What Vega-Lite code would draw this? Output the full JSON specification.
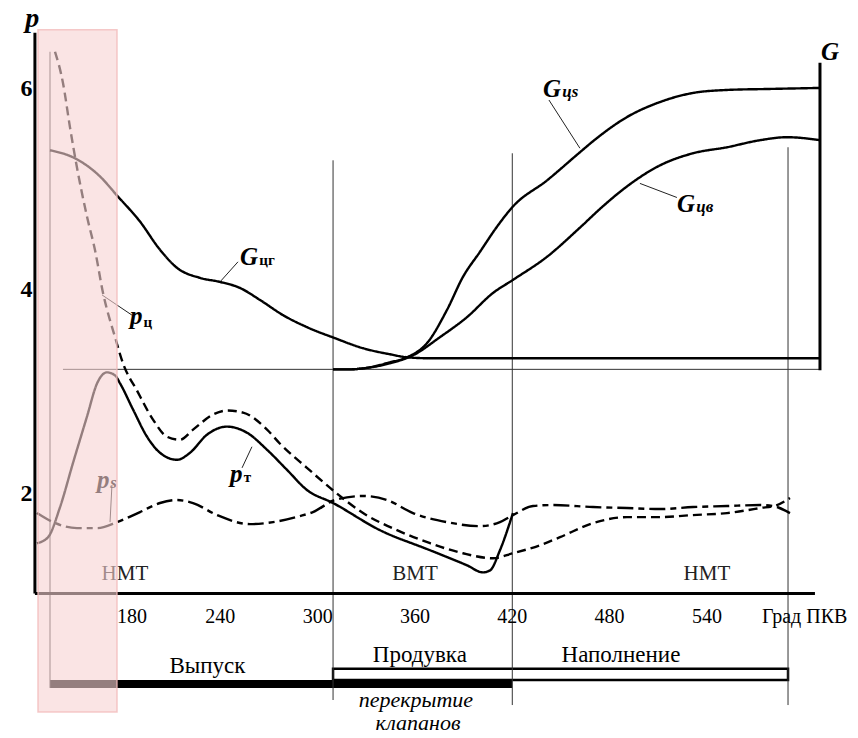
{
  "$schema": "https://vega.github.io/schema/vega-lite/v6.json",
  "width": 858,
  "height": 738,
  "autosize": "none",
  "padding": 0,
  "background": "white",
  "config": {"view": {"stroke": null}},
  "datasets": {
    "curves": [
      {"s":"Gcg","x":135.0,"y":5.49},{"s":"Gcg","x":150.4,"y":5.41},{"s":"Gcg","x":165.8,"y":5.23},{"s":"Gcg","x":176.3,"y":5.04},{"s":"Gcg","x":190.5,"y":4.78},{"s":"Gcg","x":202.8,"y":4.50},{"s":"Gcg","x":213.3,"y":4.32},{"s":"Gcg","x":227.5,"y":4.22},{"s":"Gcg","x":239.8,"y":4.18},{"s":"Gcg","x":252.1,"y":4.12},{"s":"Gcg","x":264.5,"y":4.00},{"s":"Gcg","x":278.6,"y":3.85},{"s":"Gcg","x":293.4,"y":3.73},{"s":"Gcg","x":310.7,"y":3.62},{"s":"Gcg","x":328.0,"y":3.52},{"s":"Gcg","x":344.6,"y":3.46},{"s":"Gcg","x":355.1,"y":3.43},{"s":"Gcg","x":370.0,"y":3.42},{"s":"Gcg","x":609.7,"y":3.42},
      {"s":"Gcs","x":309.5,"y":3.31},{"s":"Gcs","x":320.0,"y":3.31},{"s":"Gcs","x":328.0,"y":3.32},{"s":"Gcs","x":344.6,"y":3.38},{"s":"Gcs","x":355.1,"y":3.43},{"s":"Gcs","x":367.4,"y":3.57},{"s":"Gcs","x":379.7,"y":3.90},{"s":"Gcs","x":389.6,"y":4.23},{"s":"Gcs","x":400.1,"y":4.48},{"s":"Gcs","x":410.6,"y":4.73},{"s":"Gcs","x":420.4,"y":4.93},{"s":"Gcs","x":441.4,"y":5.19},{"s":"Gcs","x":461.7,"y":5.47},{"s":"Gcs","x":469.8,"y":5.58},{"s":"Gcs","x":490.7,"y":5.82},{"s":"Gcs","x":511.1,"y":5.97},{"s":"Gcs","x":531.4,"y":6.06},{"s":"Gcs","x":552.4,"y":6.09},{"s":"Gcs","x":578.9,"y":6.10},{"s":"Gcs","x":609.7,"y":6.11},
      {"s":"Gcv","x":309.5,"y":3.31},{"s":"Gcv","x":320.0,"y":3.31},{"s":"Gcv","x":328.0,"y":3.32},{"s":"Gcv","x":344.6,"y":3.37},{"s":"Gcv","x":358.8,"y":3.45},{"s":"Gcv","x":375.4,"y":3.63},{"s":"Gcv","x":392.1,"y":3.83},{"s":"Gcv","x":408.1,"y":4.07},{"s":"Gcv","x":420.4,"y":4.20},{"s":"Gcv","x":441.4,"y":4.43},{"s":"Gcv","x":461.7,"y":4.72},{"s":"Gcv","x":475.0,"y":4.92},{"s":"Gcv","x":490.7,"y":5.13},{"s":"Gcv","x":511.1,"y":5.34},{"s":"Gcv","x":531.4,"y":5.46},{"s":"Gcv","x":552.4,"y":5.52},{"s":"Gcv","x":572.7,"y":5.59},{"s":"Gcv","x":589.4,"y":5.62},{"s":"Gcv","x":609.7,"y":5.59},
      {"s":"pc","x":138.1,"y":6.47},{"s":"pc","x":143.0,"y":6.16},{"s":"pc","x":147.3,"y":5.72},{"s":"pc","x":151.6,"y":5.32},{"s":"pc","x":157.8,"y":4.83},{"s":"pc","x":162.7,"y":4.50},{"s":"pc","x":167.7,"y":4.07},{"s":"pc","x":175.1,"y":3.63},{"s":"pc","x":180.0,"y":3.37},{"s":"pc","x":188.6,"y":3.10},{"s":"pc","x":198.5,"y":2.81},{"s":"pc","x":207.1,"y":2.64},{"s":"pc","x":215.1,"y":2.61},{"s":"pc","x":223.2,"y":2.71},{"s":"pc","x":235.5,"y":2.86},{"s":"pc","x":244.1,"y":2.90},{"s":"pc","x":254.0,"y":2.88},{"s":"pc","x":268.8,"y":2.71},{"s":"pc","x":276.8,"y":2.57},{"s":"pc","x":293.4,"y":2.33},{"s":"pc","x":310.7,"y":2.09},{"s":"pc","x":328.0,"y":1.88},{"s":"pc","x":348.9,"y":1.71},{"s":"pc","x":369.3,"y":1.58},{"s":"pc","x":389.6,"y":1.48},{"s":"pc","x":408.1,"y":1.43},{"s":"pc","x":420.4,"y":1.48},{"s":"pc","x":437.1,"y":1.56},{"s":"pc","x":449.4,"y":1.64},{"s":"pc","x":469.8,"y":1.78},{"s":"pc","x":490.7,"y":1.84},{"s":"pc","x":511.1,"y":1.84},{"s":"pc","x":531.4,"y":1.86},{"s":"pc","x":552.4,"y":1.88},{"s":"pc","x":572.7,"y":1.93},{"s":"pc","x":583.2,"y":1.96},{"s":"pc","x":591.2,"y":2.03},
      {"s":"pt","x":127.0,"y":1.58},{"s":"pt","x":133.8,"y":1.64},{"s":"pt","x":141.2,"y":1.94},{"s":"pt","x":149.2,"y":2.38},{"s":"pt","x":157.8,"y":2.84},{"s":"pt","x":164.0,"y":3.17},{"s":"pt","x":170.1,"y":3.28},{"s":"pt","x":175.1,"y":3.25},{"s":"pt","x":178.2,"y":3.17},{"s":"pt","x":186.2,"y":2.91},{"s":"pt","x":194.8,"y":2.64},{"s":"pt","x":202.8,"y":2.48},{"s":"pt","x":213.3,"y":2.41},{"s":"pt","x":221.3,"y":2.48},{"s":"pt","x":231.8,"y":2.66},{"s":"pt","x":244.1,"y":2.74},{"s":"pt","x":256.4,"y":2.68},{"s":"pt","x":268.8,"y":2.51},{"s":"pt","x":281.1,"y":2.31},{"s":"pt","x":293.4,"y":2.11},{"s":"pt","x":309.5,"y":1.98},{"s":"pt","x":338.4,"y":1.71},{"s":"pt","x":369.3,"y":1.51},{"s":"pt","x":392.1,"y":1.36},{"s":"pt","x":401.9,"y":1.29},{"s":"pt","x":406.3,"y":1.31},{"s":"pt","x":412.4,"y":1.51},{"s":"pt","x":420.4,"y":1.88},
      {"s":"ps","x":127.0,"y":1.88},{"s":"ps","x":136.8,"y":1.79},{"s":"ps","x":151.6,"y":1.73},{"s":"ps","x":164.0,"y":1.73},{"s":"ps","x":176.3,"y":1.79},{"s":"ps","x":190.5,"y":1.89},{"s":"ps","x":202.8,"y":1.98},{"s":"ps","x":213.3,"y":2.01},{"s":"ps","x":223.2,"y":1.98},{"s":"ps","x":238.0,"y":1.86},{"s":"ps","x":258.3,"y":1.77},{"s":"ps","x":272.5,"y":1.79},{"s":"ps","x":289.1,"y":1.85},{"s":"ps","x":297.1,"y":1.89},{"s":"ps","x":310.7,"y":2.01},{"s":"ps","x":328.0,"y":2.05},{"s":"ps","x":342.8,"y":2.01},{"s":"ps","x":358.8,"y":1.88},{"s":"ps","x":379.7,"y":1.79},{"s":"ps","x":400.1,"y":1.75},{"s":"ps","x":412.4,"y":1.79},{"s":"ps","x":420.4,"y":1.86},{"s":"ps","x":432.8,"y":1.95},{"s":"ps","x":445.1,"y":1.96},{"s":"ps","x":469.8,"y":1.94},{"s":"ps","x":490.7,"y":1.93},{"s":"ps","x":511.1,"y":1.92},{"s":"ps","x":531.4,"y":1.94},{"s":"ps","x":552.4,"y":1.95},{"s":"ps","x":572.7,"y":1.96},{"s":"ps","x":580.7,"y":1.95},{"s":"ps","x":591.2,"y":1.88}
    ],
    "thin": [
      {"x":135.0,"x2":135.0,"y":6.47,"y2":0.14},
      {"x":309.5,"x2":309.5,"y":5.39,"y2":0.02},
      {"x":420.0,"x2":420.0,"y":5.46,"y2":-0.03},
      {"x":590.0,"x2":590.0,"y":5.52,"y2":-0.03},
      {"x":143.0,"x2":609.7,"y":3.31,"y2":3.31}
    ],
    "leaders": [
      {"x":442.6,"y":5.99,"x2":461.7,"y2":5.51},
      {"x":498.7,"y":5.16,"x2":521.5,"y2":5.02},
      {"x":239.8,"y":4.18,"x2":250.9,"y2":4.38},
      {"x":167.1,"y":4.05,"x2":185.5,"y2":3.85},
      {"x":259.5,"y":2.54,"x2":253.4,"y2":2.33},
      {"x":173.2,"y":2.16,"x2":172.0,"y2":1.79}
    ],
    "axes": [
      {"x":125.7,"x2":125.7,"y":6.66,"y2":1.08},
      {"x":125.7,"x2":606.6,"y":1.08,"y2":1.08},
      {"x":609.7,"x2":609.7,"y":6.36,"y2":3.30}
    ],
    "xmajor": [{"x":180},{"x":240},{"x":300},{"x":360},{"x":420},{"x":480},{"x":540}],
    "xminor": [{"x":140},{"x":160},{"x":200},{"x":220},{"x":260},{"x":280},{"x":320},{"x":340},{"x":380},{"x":400},{"x":440},{"x":460},{"x":500},{"x":520},{"x":560},{"x":580}],
    "yticks": [{"y":1.6},{"y":2.0},{"y":2.4},{"y":2.8},{"y":3.2},{"y":3.6},{"y":4.0},{"y":4.4},{"y":4.8},{"y":5.2},{"y":5.6},{"y":6.0},{"y":6.4}],
    "bars": [
      {"kind":"open","x":309.5,"x2":590.0,"y":0.33,"y2":0.22},
      {"kind":"solid","x":135.0,"x2":420.0,"y":0.22,"y2":0.14}
    ],
    "pink": [{"x":127.6,"x2":176.3,"y":6.69,"y2":-0.10}],
    "labels": [
      {"k":"tick","x":185.5,"y":0.79,"t":"180"},
      {"k":"tick","x":240,"y":0.79,"t":"240"},
      {"k":"tick","x":300,"y":0.79,"t":"300"},
      {"k":"tick","x":360,"y":0.79,"t":"360"},
      {"k":"tick","x":420,"y":0.79,"t":"420"},
      {"k":"tick","x":480,"y":0.79,"t":"480"},
      {"k":"tick","x":540,"y":0.79,"t":"540"},
      {"k":"tickL","x":573.9,"y":0.79,"t":"Град ПКВ"},
      {"k":"ylab","x":124.2,"y":6.03,"t":"6"},
      {"k":"ylab","x":124.2,"y":4.03,"t":"4"},
      {"k":"ylab","x":124.2,"y":2.0,"t":"2"},
      {"k":"dead","x":181.2,"y":1.21,"t":"НМТ"},
      {"k":"dead","x":360,"y":1.21,"t":"ВМТ"},
      {"k":"dead","x":540,"y":1.21,"t":"НМТ"},
      {"k":"phase","x":232.1,"y":0.29,"t":"Выпуск"},
      {"k":"phase","x":363,"y":0.40,"t":"Продувка"},
      {"k":"phase","x":487,"y":0.40,"t":"Наполнение"},
      {"k":"phaseI","x":360.6,"y":-0.05,"t":"перекрытие"},
      {"k":"phaseI","x":361.9,"y":-0.28,"t":"клапанов"},
      {"k":"symC","x":124.0,"y":6.72,"t":"p"},
      {"k":"sym","x":610.3,"y":6.39,"t":"G"},
      {"k":"sym","x":438.9,"y":6.02,"t":"G"},
      {"k":"sub","x":450.8,"y":6.02,"t":"цs"},
      {"k":"sym","x":521.5,"y":4.88,"t":"G"},
      {"k":"sub","x":533.4,"y":4.88,"t":"цв"},
      {"k":"sym","x":252.1,"y":4.35,"t":"G"},
      {"k":"subU","x":264.0,"y":4.35,"t":"цг"},
      {"k":"sym","x":184.3,"y":3.76,"t":"p"},
      {"k":"subU","x":192.6,"y":3.73,"t":"ц"},
      {"k":"sym","x":246.0,"y":2.19,"t":"p"},
      {"k":"subU","x":254.4,"y":2.19,"t":"т"},
      {"k":"sym","x":164.0,"y":2.13,"t":"p"},
      {"k":"sub","x":172.2,"y":2.13,"t":"s"}
    ]
  },
  "encoding": {
    "x": {"field":"x","type":"quantitative","scale":{"domain":[104.17,633.14],"nice":false,"zero":false},"axis":null},
    "y": {"field":"y","type":"quantitative","scale":{"domain":[-0.358,6.985],"nice":false,"zero":false},"axis":null}
  },
  "layer": [
    {"data":{"name":"bars"},"transform":[{"filter":"datum.kind === 'open'"}],"mark":{"type":"rect","fill":"white","stroke":"black","strokeWidth":2.5},"encoding":{"x2":{"field":"x2"},"y2":{"field":"y2"}}},
    {"data":{"name":"bars"},"transform":[{"filter":"datum.kind === 'solid'"}],"mark":{"type":"rect","fill":"black"},"encoding":{"x2":{"field":"x2"},"y2":{"field":"y2"}}},
    {"data":{"name":"thin"},"mark":{"type":"rule","color":"#333","strokeWidth":1},"encoding":{"x2":{"field":"x2"},"y2":{"field":"y2"}}},
    {"data":{"name":"leaders"},"mark":{"type":"rule","color":"#222","strokeWidth":1},"encoding":{"x2":{"field":"x2"},"y2":{"field":"y2"}}},
    {"data":{"name":"axes"},"mark":{"type":"rule","color":"black","strokeWidth":3},"encoding":{"x2":{"field":"x2"},"y2":{"field":"y2"}}},
    {"data":{"name":"xmajor"},"mark":{"type":"rule","color":"black","strokeWidth":3},"encoding":{"y":{"datum":1.17},"y2":{"datum":1.02}}},
    {"data":{"name":"xminor"},"mark":{"type":"rule","color":"black","strokeWidth":1.3},"encoding":{"y":{"datum":1.14},"y2":{"datum":1.04}}},
    {"data":{"name":"yticks"},"mark":{"type":"rule","color":"black","strokeWidth":1.5},"encoding":{"x":{"datum":122.3},"x2":{"datum":125.7}}},
    {"data":{"name":"curves"},"mark":{"type":"line","interpolate":"monotone","strokeWidth":2.4,"color":"black"},
     "encoding":{"strokeDash":{"field":"s","type":"nominal","scale":{"domain":["Gcg","Gcs","Gcv","pt","pc","ps"],"range":[[1,0],[1,0],[1,0],[1,0],[9,5],[16,5,6,5]]},"legend":null}}},
    {"data":{"name":"labels"},"transform":[{"filter":"datum.k === 'tick'"}],"mark":{"type":"text","font":"Liberation Serif","fontSize":20,"align":"center","baseline":"alphabetic","color":"black"},"encoding":{"text":{"field":"t"}}},
    {"data":{"name":"labels"},"transform":[{"filter":"datum.k === 'tickL'"}],"mark":{"type":"text","font":"Liberation Serif","fontSize":20,"align":"left","baseline":"alphabetic","color":"black"},"encoding":{"text":{"field":"t"}}},
    {"data":{"name":"labels"},"transform":[{"filter":"datum.k === 'ylab'"}],"mark":{"type":"text","font":"Liberation Serif","fontSize":24,"fontWeight":"bold","align":"right","baseline":"alphabetic","color":"black"},"encoding":{"text":{"field":"t"}}},
    {"data":{"name":"labels"},"transform":[{"filter":"datum.k === 'dead'"}],"mark":{"type":"text","font":"Liberation Serif","fontSize":21,"align":"center","baseline":"alphabetic","color":"#222"},"encoding":{"text":{"field":"t"}}},
    {"data":{"name":"labels"},"transform":[{"filter":"datum.k === 'phase'"}],"mark":{"type":"text","font":"Liberation Serif","fontSize":23,"align":"center","baseline":"alphabetic","color":"black"},"encoding":{"text":{"field":"t"}}},
    {"data":{"name":"labels"},"transform":[{"filter":"datum.k === 'phaseI'"}],"mark":{"type":"text","font":"Liberation Serif","fontSize":22,"fontStyle":"italic","align":"center","baseline":"alphabetic","color":"black"},"encoding":{"text":{"field":"t"}}},
    {"data":{"name":"labels"},"transform":[{"filter":"datum.k === 'symC'"}],"mark":{"type":"text","font":"Liberation Serif","fontSize":28,"fontStyle":"italic","fontWeight":"bold","align":"center","baseline":"alphabetic","color":"black"},"encoding":{"text":{"field":"t"}}},
    {"data":{"name":"labels"},"transform":[{"filter":"datum.k === 'sym'"}],"mark":{"type":"text","font":"Liberation Serif","fontSize":25,"fontStyle":"italic","fontWeight":"bold","align":"left","baseline":"alphabetic","color":"black"},"encoding":{"text":{"field":"t"}}},
    {"data":{"name":"labels"},"transform":[{"filter":"datum.k === 'sub'"}],"mark":{"type":"text","font":"Liberation Serif","fontSize":17,"fontStyle":"italic","fontWeight":"bold","align":"left","baseline":"alphabetic","color":"black"},"encoding":{"text":{"field":"t"}}},
    {"data":{"name":"labels"},"transform":[{"filter":"datum.k === 'subU'"}],"mark":{"type":"text","font":"Liberation Serif","fontSize":15,"fontWeight":"bold","align":"left","baseline":"alphabetic","color":"black"},"encoding":{"text":{"field":"t"}}},
    {"data":{"name":"pink"},"mark":{"type":"rect","fill":"#f7d2d2","fillOpacity":0.6,"stroke":"#f2bcbc","strokeWidth":1.5,"strokeOpacity":0.8},"encoding":{"x2":{"field":"x2"},"y2":{"field":"y2"}}}
  ]
}
